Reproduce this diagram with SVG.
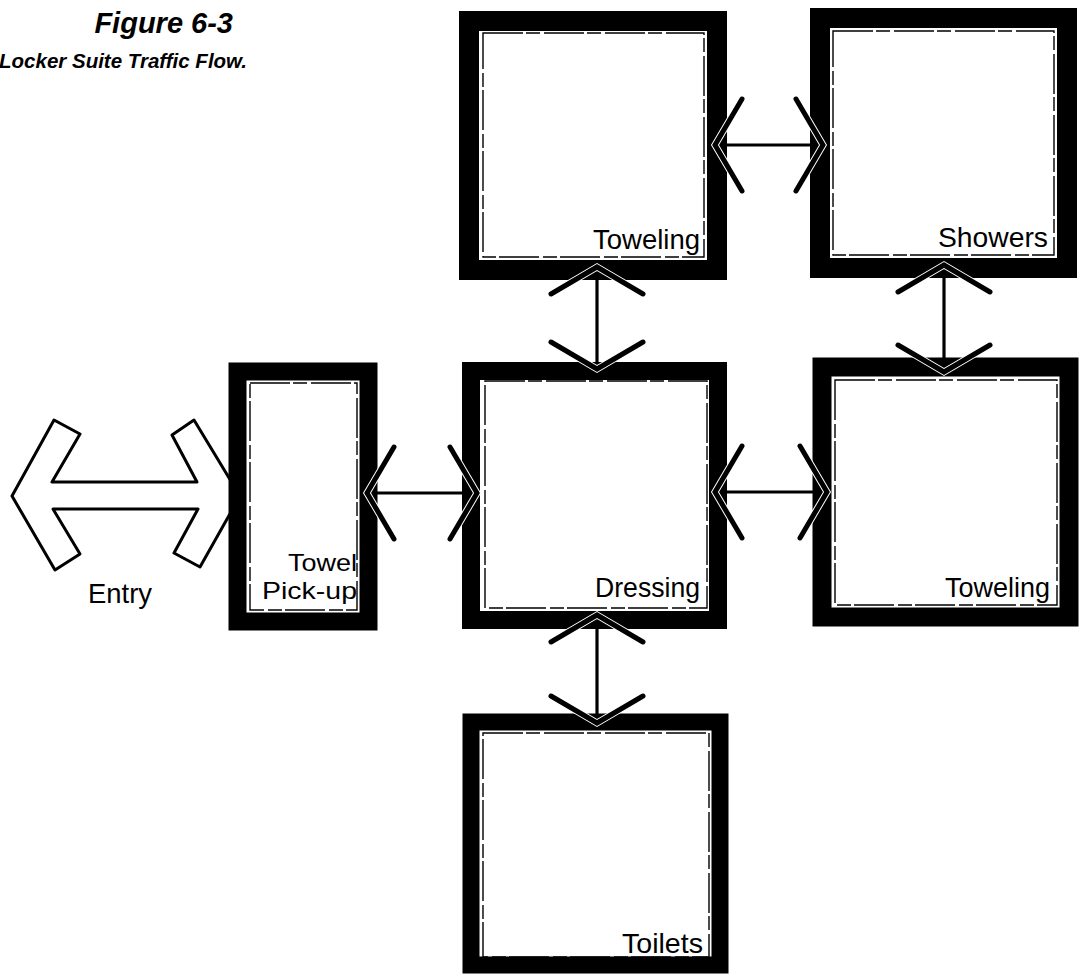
<svg xmlns="http://www.w3.org/2000/svg" width="1088" height="976" viewBox="0 0 1088 976">
<style>
.room{fill:#fff;stroke:#000;stroke-linejoin:miter}
.liner{fill:none;stroke:#000;stroke-width:1.4;stroke-dasharray:40 3 14 4}
.lbl{font-family:"Liberation Sans",Arial,sans-serif;font-size:28px;fill:#000;text-anchor:end}
.ttl{font-family:"Liberation Sans",Arial,sans-serif;font-weight:bold;font-style:italic;fill:#000;text-anchor:end}
.flow{stroke:#000;stroke-width:3.2;fill:none}
</style>
<defs>
<marker id="v" markerUnits="userSpaceOnUse" markerWidth="80" markerHeight="120" viewBox="-40 -60 80 120" refX="0" refY="0" orient="auto-start-reverse" overflow="visible">
<path d="M-27,-46 L0,0 L-27,46" fill="none" stroke="#fff" stroke-width="7" stroke-linecap="round"/>
<path d="M-27,-46 L0,0 L-27,46" fill="none" stroke="#000" stroke-width="5" stroke-linecap="round"/>
</marker>
</defs>
<rect width="1088" height="976" fill="#fff"/>

<g id="title">
<text class="ttl" x="233" y="33" font-size="29">Figure 6-3</text>
<text class="ttl" x="247" y="68" font-size="20.5">Locker Suite Traffic Flow.</text>
</g>

<g id="entry">
<polygon points="12,496 54,420 80,434 52,482 197,482 172,435 194,420 240,496 200,567 174,553 198,509 53,509 80,554 55,570" fill="#fff" stroke="#000" stroke-width="3" stroke-linejoin="round"/>
<text class="lbl" x="120" y="603" style="text-anchor:middle" textLength="64" lengthAdjust="spacingAndGlyphs">Entry</text>
</g>

<g id="toweling-top">
<rect class="room" x="469" y="21" width="248" height="249" stroke-width="20"/>
<rect class="liner" x="483" y="33" width="221" height="224"/>
<text class="lbl" x="700" y="249" textLength="107" lengthAdjust="spacingAndGlyphs">Toweling</text>
</g>

<g id="showers">
<rect class="room" x="820" y="18" width="247" height="250" stroke-width="20"/>
<rect class="liner" x="833" y="31" width="221" height="224"/>
<text class="lbl" x="1048" y="247" textLength="110" lengthAdjust="spacingAndGlyphs">Showers</text>
</g>

<g id="towel-pickup">
<rect class="room" x="237.5" y="371.5" width="131" height="250" stroke-width="18"/>
<rect class="liner" x="250" y="383" width="107" height="227"/>
<text class="lbl" x="357" y="571" font-size="24" style="font-size:24px" textLength="69" lengthAdjust="spacingAndGlyphs">Towel</text>
<text class="lbl" x="357" y="599" font-size="24" style="font-size:24px" textLength="95" lengthAdjust="spacingAndGlyphs">Pick-up</text>
</g>

<g id="dressing">
<rect class="room" x="471" y="371" width="247" height="249" stroke-width="18"/>
<rect class="liner" x="485" y="381" width="222" height="227"/>
<text class="lbl" x="700" y="597" textLength="105" lengthAdjust="spacingAndGlyphs">Dressing</text>
</g>

<g id="toweling-right">
<rect class="room" x="822" y="367" width="247" height="250" stroke-width="19"/>
<rect class="liner" x="835" y="380" width="222" height="225"/>
<text class="lbl" x="1050" y="597" textLength="105" lengthAdjust="spacingAndGlyphs">Toweling</text>
</g>

<g id="toilets">
<rect class="room" x="471" y="722" width="249" height="243" stroke-width="17"/>
<rect class="liner" x="483" y="733" width="226" height="224"/>
<text class="lbl" x="703" y="953" textLength="81" lengthAdjust="spacingAndGlyphs">Toilets</text>
</g>

<g id="connectors">
<line class="flow" x1="715" y1="145" x2="823" y2="145" marker-start="url(#v)" marker-end="url(#v)"/>
<line class="flow" x1="597" y1="267" x2="597" y2="369" marker-start="url(#v)" marker-end="url(#v)"/>
<line class="flow" x1="944" y1="265" x2="944" y2="372" marker-start="url(#v)" marker-end="url(#v)"/>
<line class="flow" x1="367" y1="493" x2="477" y2="493" marker-start="url(#v)" marker-end="url(#v)"/>
<line class="flow" x1="715" y1="492" x2="827" y2="492" marker-start="url(#v)" marker-end="url(#v)"/>
<line class="flow" x1="597" y1="615" x2="597" y2="723" marker-start="url(#v)" marker-end="url(#v)"/>
</g>
</svg>
